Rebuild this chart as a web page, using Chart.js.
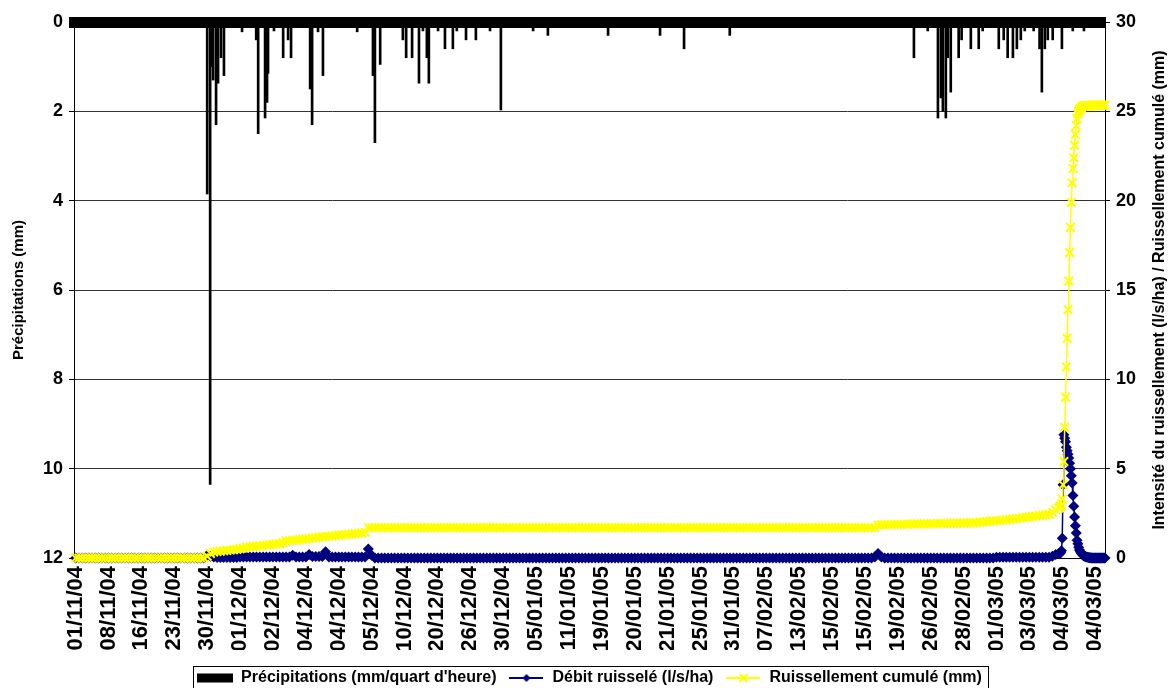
<!DOCTYPE html>
<html lang="fr">
<head>
  <meta charset="UTF-8">
  <title>Précipitations et ruissellement</title>
  <script src="https://cdn.jsdelivr.net/npm/chart.js"></script>
  <style>
    html, body { margin: 0; padding: 0; background: #fff; }
  </style>
</head>
<body>
  <canvas id="graphe" width="1169" height="688"></canvas>

  <script>
    // étiquettes de l'axe des abscisses (une tous les 10 pas d'enregistrement)
    const tickLabels = [
      '01/11/04', '08/11/04', '16/11/04', '23/11/04', '30/11/04', '01/12/04', '02/12/04', '04/12/04',
      '04/12/04', '05/12/04', '10/12/04', '20/12/04', '26/12/04', '30/12/04', '05/01/05', '11/01/05',
      '19/01/05', '20/01/05', '21/01/05', '25/01/05', '31/01/05', '07/02/05', '13/02/05', '15/02/05',
      '15/02/05', '19/02/05', '26/02/05', '28/02/05', '01/03/05', '03/03/05', '04/03/05', '04/03/05'
    ];

    // précipitations (mm / quart d'heure) : [position, mm]
    const pluie = [
      [4.00, 3.85], [4.09, 10.35], [4.15, 1.0], [4.18, 1.3], [4.27, 2.3], [4.33, 1.37], [4.42, 0.8], [4.51, 1.2],
      [5.06, 0.22], [5.49, 0.4], [5.55, 2.5], [5.76, 2.15], [5.82, 1.8], [5.85, 1.15], [6.03, 0.2], [6.31, 0.8],
      [6.46, 0.4], [6.55, 0.8], [7.13, 1.5], [7.19, 2.3], [7.37, 0.22], [7.52, 1.2], [8.56, 0.22], [9.04, 1.2],
      [9.10, 2.7], [9.26, 0.95], [9.95, 0.4], [10.05, 0.8], [10.23, 0.8], [10.44, 1.37], [10.56, 0.2], [10.68, 0.8],
      [10.74, 1.37], [11.02, 0.2], [11.23, 0.6], [11.47, 0.6], [11.59, 0.2], [11.87, 0.4], [12.17, 0.4], [12.60, 0.2],
      [12.93, 1.97], [13.91, 0.2], [14.36, 0.3], [16.19, 0.3], [17.77, 0.3], [18.50, 0.6], [19.89, 0.3],
      [25.49, 0.8], [25.91, 0.2], [26.22, 2.15], [26.31, 1.7], [26.37, 2.0], [26.46, 2.15], [26.52, 0.8], [26.61, 1.57],
      [26.85, 0.8], [26.94, 0.4], [27.22, 0.6], [27.46, 0.6], [27.58, 0.2], [28.07, 0.6], [28.22, 0.4], [28.34, 0.8],
      [28.50, 0.8], [28.62, 0.6], [28.74, 0.4], [28.86, 0.2], [29.13, 0.2], [29.31, 0.6], [29.38, 1.57], [29.47, 0.6],
      [29.56, 0.4], [29.71, 0.4], [29.99, 0.6], [30.32, 0.2], [30.66, 0.2]
    ];

    // débit ruisselé (l/s/ha), pas de 0.1 jusqu'à la crue
    const debitBase = [
      0, 0, 0, 0, 0, 0, 0, 0, 0, 0,
      0, 0, 0, 0, 0, 0, 0, 0, 0, 0,
      0, 0, 0, 0, 0, 0, 0, 0, 0, 0,
      0, 0, 0, 0, 0, 0, 0, 0, 0, 0,
      0.15, 0.1, 0.05, 0.03, 0.03, 0.03, 0.03, 0.03, 0.03, 0.03,
      0.05, 0.05, 0.05, 0.05, 0.05, 0.05, 0.05, 0.05, 0.05, 0.05,
      0.05, 0.05, 0.05, 0.05, 0.05, 0.05, 0.15, 0.05, 0.05, 0.05,
      0.05, 0.2, 0.08, 0.08, 0.08, 0.08, 0.35, 0.06, 0.06, 0.06,
      0.06, 0.06, 0.06, 0.06, 0.06, 0.06, 0.06, 0.06, 0.06, 0.5,
      0.15, 0, 0, 0, 0, 0, 0, 0, 0, 0,
      0, 0, 0, 0, 0, 0, 0, 0, 0, 0,
      0, 0, 0, 0, 0, 0, 0, 0, 0, 0,
      0, 0, 0, 0, 0, 0, 0, 0, 0, 0,
      0, 0, 0, 0, 0, 0, 0, 0, 0, 0,
      0, 0, 0, 0, 0, 0, 0, 0, 0, 0,
      0, 0, 0, 0, 0, 0, 0, 0, 0, 0,
      0, 0, 0, 0, 0, 0, 0, 0, 0, 0,
      0, 0, 0, 0, 0, 0, 0, 0, 0, 0,
      0, 0, 0, 0, 0, 0, 0, 0, 0, 0,
      0, 0, 0, 0, 0, 0, 0, 0, 0, 0,
      0, 0, 0, 0, 0, 0, 0, 0, 0, 0,
      0, 0, 0, 0, 0, 0, 0, 0, 0, 0,
      0, 0, 0, 0, 0, 0, 0, 0, 0, 0,
      0, 0, 0, 0, 0, 0, 0, 0, 0, 0,
      0, 0, 0, 0.05, 0.25, 0.05, 0, 0, 0, 0,
      0, 0, 0, 0, 0, 0, 0, 0, 0, 0,
      0, 0, 0, 0, 0, 0, 0, 0, 0, 0,
      0, 0, 0, 0, 0, 0, 0, 0, 0, 0,
      0.04, 0.04, 0.04, 0.04, 0.04, 0.04, 0.04, 0.04, 0.04, 0.04,
      0.04, 0.04, 0.04, 0.04, 0.04, 0.04, 0.04, 0.1, 0.2
    ];

    // ruissellement cumulé (mm), même pas
    const cumulBase = [
      0, 0, 0, 0, 0, 0, 0, 0, 0, 0,
      0, 0, 0, 0, 0, 0, 0, 0, 0, 0,
      0, 0, 0, 0, 0, 0, 0, 0, 0, 0,
      0, 0, 0, 0, 0, 0, 0, 0, 0, 0,
      0.1, 0.25, 0.33, 0.36, 0.38, 0.4, 0.42, 0.44, 0.46, 0.48,
      0.52, 0.56, 0.6, 0.62, 0.64, 0.66, 0.68, 0.7, 0.72, 0.74,
      0.76, 0.78, 0.8, 0.85, 0.95, 0.97, 0.99, 1.0, 1.02, 1.04,
      1.06, 1.1, 1.12, 1.14, 1.16, 1.18, 1.2, 1.22, 1.24, 1.26,
      1.28, 1.3, 1.31, 1.32, 1.34, 1.36, 1.38, 1.4, 1.45, 1.7,
      1.7, 1.7, 1.7, 1.7, 1.7, 1.7, 1.7, 1.7, 1.7, 1.7,
      1.7, 1.7, 1.7, 1.7, 1.7, 1.7, 1.7, 1.7, 1.7, 1.7,
      1.7, 1.7, 1.7, 1.7, 1.7, 1.7, 1.7, 1.7, 1.7, 1.7,
      1.7, 1.7, 1.7, 1.7, 1.7, 1.7, 1.7, 1.7, 1.7, 1.7,
      1.7, 1.7, 1.7, 1.7, 1.7, 1.7, 1.7, 1.7, 1.7, 1.7,
      1.7, 1.7, 1.7, 1.7, 1.7, 1.7, 1.7, 1.7, 1.7, 1.7,
      1.7, 1.7, 1.7, 1.7, 1.7, 1.7, 1.7, 1.7, 1.7, 1.7,
      1.7, 1.7, 1.7, 1.7, 1.7, 1.7, 1.7, 1.7, 1.7, 1.7,
      1.7, 1.7, 1.7, 1.7, 1.7, 1.7, 1.7, 1.7, 1.7, 1.7,
      1.7, 1.7, 1.7, 1.7, 1.7, 1.7, 1.7, 1.7, 1.7, 1.7,
      1.7, 1.7, 1.7, 1.7, 1.7, 1.7, 1.7, 1.7, 1.7, 1.7,
      1.7, 1.7, 1.7, 1.7, 1.7, 1.7, 1.7, 1.7, 1.7, 1.7,
      1.7, 1.7, 1.7, 1.7, 1.7, 1.7, 1.7, 1.7, 1.7, 1.7,
      1.7, 1.7, 1.7, 1.7, 1.7, 1.7, 1.7, 1.7, 1.7, 1.7,
      1.7, 1.7, 1.7, 1.7, 1.7, 1.7, 1.7, 1.7, 1.7, 1.7,
      1.7, 1.7, 1.7, 1.7, 1.85, 1.86, 1.86, 1.87, 1.87, 1.88,
      1.88, 1.88, 1.89, 1.89, 1.9, 1.9, 1.9, 1.91, 1.91, 1.92,
      1.92, 1.92, 1.93, 1.93, 1.94, 1.94, 1.94, 1.95, 1.95, 1.96,
      1.96, 1.96, 1.97, 1.97, 1.98, 2.0, 2.02, 2.04, 2.05, 2.07,
      2.08, 2.1, 2.12, 2.14, 2.16, 2.18, 2.2, 2.22, 2.25, 2.28,
      2.3, 2.32, 2.35, 2.38, 2.4, 2.42, 2.45, 2.55, 2.7
    ];

    // crue du 04/03/05, pas fin de 0.025 à partir de 29.9
    const debitCrue = [
      0.25, 0.25, 0.3, 0.4, 1.1, 4.1, 6.9, 6.7, 6.5, 6.2,
      6.0, 5.8, 5.6, 5.3, 5.0, 4.6, 4.2, 3.5, 2.9, 2.3,
      1.8, 1.4, 1.0, 0.8, 0.6, 0.45, 0.35, 0.28, 0.22, 0.17,
      0.13, 0.1, 0.08, 0.06, 0.05, 0.04, 0.03, 0.02, 0.02, 0.01,
      0, 0, 0, 0, 0, 0, 0, 0, 0, 0,
      0, 0, 0, 0, 0, 0, 0
    ];
    const cumulCrue = [
      2.8, 2.85, 2.9, 3.0, 3.3, 4.1, 5.4, 7.3, 9.0, 10.7,
      12.3, 13.9, 15.5, 17.1, 18.5, 19.9, 21.0, 21.8, 22.4, 23.1,
      23.7, 24.2, 24.6, 24.85, 25.0, 25.1, 25.15, 25.2, 25.25, 25.3,
      25.3, 25.3, 25.3, 25.3, 25.3, 25.3, 25.3, 25.3, 25.3, 25.3,
      25.35, 25.35, 25.35, 25.35, 25.35, 25.35, 25.35, 25.35, 25.35, 25.35,
      25.35, 25.35, 25.35, 25.35, 25.35, 25.35, 25.35
    ];

    const NAVY = '#000080';
    const YELLOW = '#FFFF00';
    const FONT = "'Liberation Sans', Arial, sans-serif";

    const positions = debitBase.map((_, i) => i / 10)
      .concat(debitCrue.map((_, k) => 29.9 + k * 0.025));
    const serie = vals => vals.map((v, i) => ({ x: positions[i], y: v }));

    // petits dessins pour la légende
    function swatch(w, h, draw) {
      const c = document.createElement('canvas');
      c.width = w; c.height = h;
      draw(c.getContext('2d'));
      return c;
    }
    const swPluie = swatch(36, 10, g => { g.fillStyle = '#000'; g.fillRect(0, 0.5, 36, 9); });
    const swDebit = swatch(34, 10, g => {
      g.strokeStyle = NAVY; g.lineWidth = 2;
      g.beginPath(); g.moveTo(0, 5); g.lineTo(34, 5); g.stroke();
      g.fillStyle = NAVY;
      g.beginPath(); g.moveTo(17, 1); g.lineTo(21, 5); g.lineTo(17, 9); g.lineTo(13, 5); g.closePath(); g.fill();
    });
    const swCumul = swatch(34, 10, g => {
      g.strokeStyle = YELLOW; g.lineWidth = 2;
      g.beginPath(); g.moveTo(0, 5); g.lineTo(34, 5); g.stroke();
      g.beginPath(); g.moveTo(13, 1); g.lineTo(21, 9); g.moveTo(21, 1); g.lineTo(13, 9); g.stroke();
    });

    const habillage = {
      id: 'habillage',
      afterLayout(chart) {
        const lg = chart.legend;
        lg.top += 8; lg.bottom += 8;
        lg.left += 5; lg.right += 5;
      },
      afterDraw(chart) {
        const ctx = chart.ctx;
        const boxes = chart.legend.legendHitBoxes;
        ctx.save();
        if (boxes && boxes.length) {
          const l = Math.min(...boxes.map(b => b.left)) - 4;
          const r = Math.max(...boxes.map(b => b.left + b.width)) + 6;
          const t = boxes[0].top - 4;
          ctx.strokeStyle = '#000';
          ctx.lineWidth = 1;
          ctx.strokeRect(Math.round(l) + 0.5, Math.round(t) + 0.5, Math.round(r - l), 40);
        }
        const a = chart.chartArea;
        ctx.translate(1160, (a.top + a.bottom) / 2);
        ctx.rotate(-Math.PI / 2);
        ctx.font = 'bold 16px ' + FONT;
        ctx.fillStyle = '#000';
        ctx.textAlign = 'center';
        ctx.textBaseline = 'middle';
        ctx.fillText('Intensité du ruissellement (l/s/ha) / Ruissellement cumulé (mm)', 0, 0);
        ctx.restore();
      }
    };

    Chart.defaults.font.family = FONT;
    Chart.defaults.font.weight = 'bold';
    Chart.defaults.color = '#000';

    new Chart(document.getElementById('graphe'), {
      type: 'bar',
      data: {
        datasets: [
          {
            type: 'bar',
            label: "Précipitations (mm/quart d'heure)",
            data: pluie.map(p => ({ x: p[0], y: p[1] })),
            backgroundColor: '#000',
            barThickness: 2,
            xAxisID: 'x',
            yAxisID: 'y',
            order: 3
          },
          {
            type: 'line',
            label: 'Débit ruisselé (l/s/ha)',
            data: serie(debitBase.concat(debitCrue)),
            borderColor: NAVY,
            backgroundColor: NAVY,
            borderWidth: 1.5,
            pointStyle: 'rectRot',
            pointRadius: 5.5,
            pointBorderWidth: 0,
            pointBackgroundColor: NAVY,
            tension: 0,
            clip: false,
            xAxisID: 'x',
            yAxisID: 'y2',
            order: 2
          },
          {
            type: 'line',
            label: 'Ruissellement cumulé (mm)',
            data: serie(cumulBase.concat(cumulCrue)),
            borderColor: YELLOW,
            backgroundColor: YELLOW,
            borderWidth: 1.5,
            pointStyle: 'crossRot',
            pointRadius: 6,
            pointBorderWidth: 2,
            pointBorderColor: YELLOW,
            tension: 0,
            clip: false,
            xAxisID: 'x',
            yAxisID: 'y2',
            order: 1
          }
        ]
      },
      options: {
        responsive: false,
        animation: false,
        events: [],
        layout: { padding: { top: 22, left: 0, right: 0, bottom: 0 } },
        plugins: {
          tooltip: { enabled: false },
          legend: {
            position: 'bottom',
            labels: {
              usePointStyle: true,
              pointStyleWidth: 36,
              padding: 12,
              font: { size: 16, weight: 'bold' },
              generateLabels: () => [
                { text: "Précipitations (mm/quart d'heure)", pointStyle: swPluie, lineWidth: 0, datasetIndex: 0 },
                { text: 'Débit ruisselé (l/s/ha)', pointStyle: swDebit, lineWidth: 0, datasetIndex: 1 },
                { text: 'Ruissellement cumulé (mm)', pointStyle: swCumul, lineWidth: 0, datasetIndex: 2 }
              ]
            }
          }
        },
        scales: {
          x: {
            type: 'linear',
            position: 'bottom',
            offset: false,
            min: -0.05,
            max: 31.3,
            afterBuildTicks: s => { s.ticks = tickLabels.map((_, i) => ({ value: i })); },
            afterFit: s => { s.height = 92; s.paddingLeft = 0; s.paddingRight = 0; },
            grid: { display: false, drawTicks: false, offset: false },
            border: { color: '#000', width: 1 },
            ticks: {
              autoSkip: false,
              minRotation: 90,
              maxRotation: 90,
              padding: 8,
              font: { size: 22, weight: 'bold' },
              callback: (v, i) => tickLabels[i]
            }
          },
          xTop: {
            type: 'linear',
            position: 'top',
            offset: false,
            min: -0.05,
            max: 31.3,
            afterFit: s => { s.height = 0; },
            grid: { display: false, drawTicks: false },
            ticks: { display: false },
            border: { color: '#000', width: 11 }
          },
          y: {
            position: 'left',
            reverse: true,
            min: 0,
            max: 12,
            afterFit: s => { s.width = 74; },
            ticks: { stepSize: 2, padding: 6, font: { size: 18, weight: 'bold' } },
            grid: { color: '#333', lineWidth: 1, drawTicks: true, tickLength: 5, tickColor: '#000' },
            border: { color: '#000', width: 1 },
            title: {
              display: true,
              text: 'Précipitations (mm)',
              font: { size: 15, weight: 'bold' },
              padding: { top: 10, bottom: 0 }
            }
          },
          y2: {
            position: 'right',
            min: 0,
            max: 30,
            afterFit: s => { s.width = 64; },
            ticks: { stepSize: 5, padding: 6, font: { size: 18, weight: 'bold' } },
            grid: { drawOnChartArea: false, drawTicks: true, tickLength: 5, color: '#000' },
            border: { color: '#000', width: 1 }
          }
        }
      },
      plugins: [habillage]
    });
  </script>
</body>
</html>
